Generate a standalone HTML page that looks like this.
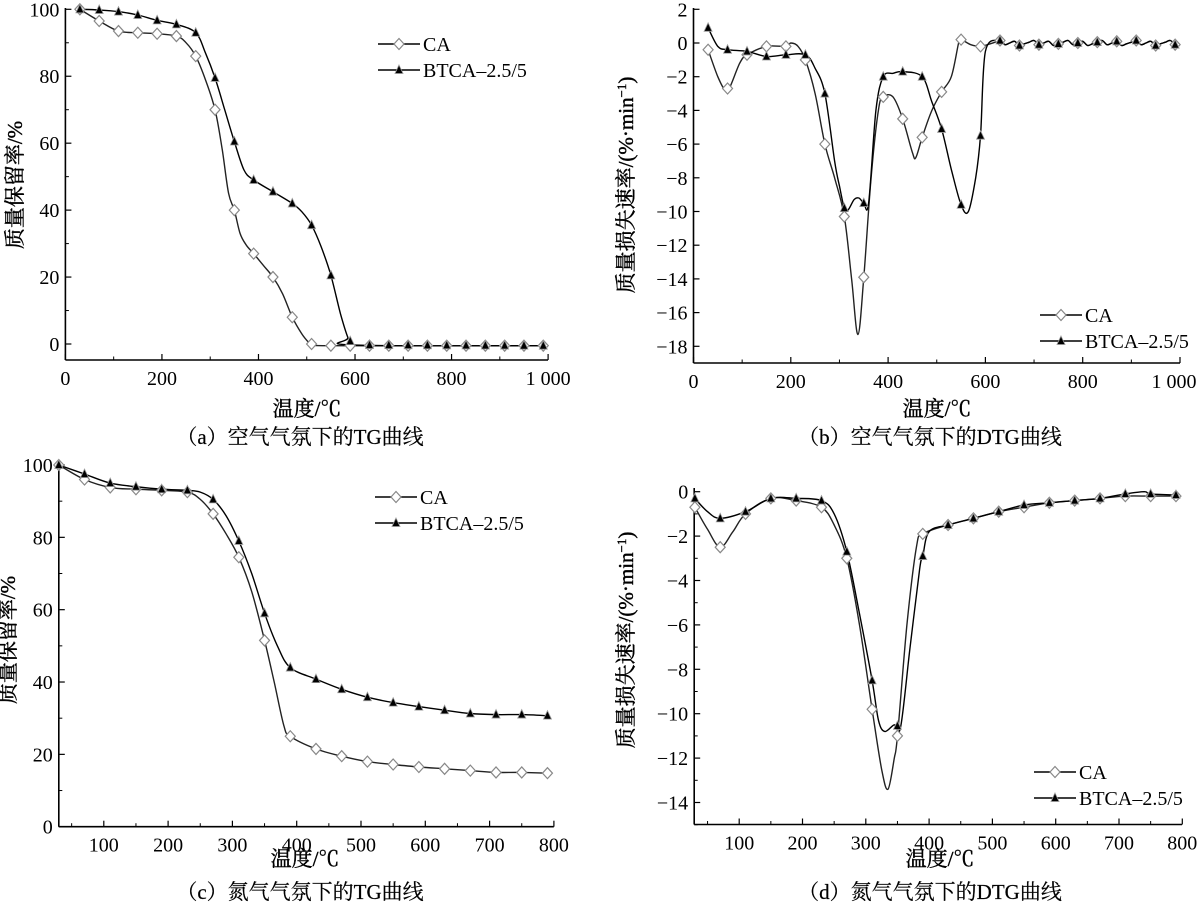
<!DOCTYPE html><html><head><meta charset="utf-8"><style>
body{margin:0;background:#fff}
svg{display:block}
text{font-family:"Liberation Serif","Noto Serif CJK SC",serif;fill:#000}
</style></head><body>
<svg id="s" width="1200" height="910" xmlns="http://www.w3.org/2000/svg"></svg>
<script>
const S=document.getElementById('s');let h='';
function P(o){
 const X=v=>o.x0+(v-o.xa)*o.sx, Y=v=>o.y0+(v-o.ya)*o.sy;
 h+=`<line x1="${o.L}" y1="${o.T}" x2="${o.L}" y2="${o.B}" stroke="#000" stroke-width="1.6"/>`;
 h+=`<line x1="${o.L}" y1="${o.B}" x2="${o.R}" y2="${o.B}" stroke="#000" stroke-width="1.6"/>`;
 o.xt.forEach(v=>{h+=`<line x1="${X(v)}" y1="${o.B}" x2="${X(v)}" y2="${o.B-6}" stroke="#000" stroke-width="1.2"/>`;
  let xx=X(v); if(v==1000) xx=Math.min(xx,1174);
  h+=`<text x="${xx}" y="${o.B+25}" font-size="20" text-anchor="middle">${v==1000?'1 000':v}</text>`;});
 o.xm.forEach(v=>{h+=`<line x1="${X(v)}" y1="${o.B}" x2="${X(v)}" y2="${o.B-3.5}" stroke="#000" stroke-width="1"/>`;});
 o.yt.forEach(v=>{h+=`<line x1="${o.L}" y1="${Y(v)}" x2="${o.L+6}" y2="${Y(v)}" stroke="#000" stroke-width="1.2"/>`;
  h+=`<text x="${o.L-6}" y="${Y(v)+7}" font-size="20" text-anchor="end">${v<0?'−'+(-v):v}</text>`;});
 o.ym.forEach(v=>{h+=`<line x1="${o.L}" y1="${Y(v)}" x2="${o.L+3.5}" y2="${Y(v)}" stroke="#000" stroke-width="1"/>`;});
 const line=(d,c)=>{const p=d.map(q=>[X(q[0]),Y(q[1])]);let s=`M${p[0][0].toFixed(1)},${p[0][1].toFixed(1)}`;
  for(let i=0;i<p.length-1;i++){const a=p[Math.max(0,i-1)],b=p[i],c2=p[i+1],e=p[Math.min(p.length-1,i+2)];
   const c1x=b[0]+(c2[0]-a[0])/6,c1y=b[1]+(c2[1]-a[1])/6,c3x=c2[0]-(e[0]-b[0])/6,c3y=c2[1]-(e[1]-b[1])/6;
   s+=` C${c1x.toFixed(1)},${c1y.toFixed(1)} ${c3x.toFixed(1)},${c3y.toFixed(1)} ${c2[0].toFixed(1)},${c2[1].toFixed(1)}`;}
  h+=`<path fill="none" stroke="${c}" stroke-width="1.4" stroke-linejoin="round" d="${s}"/>`;};
 const val=(d,t)=>{for(let i=0;i<d.length-1;i++){if(t>=d[i][0]&&t<=d[i+1][0]){const f=(t-d[i][0])/(d[i+1][0]-d[i][0]);return d[i][1]+f*(d[i+1][1]-d[i][1]);}}return d[d.length-1][1];};
 line(o.ca,'#222');line(o.bt,'#000');
 for(let t=30;t<=o.xmax;t+=40){const x=X(t),y=Y(val(o.ca,t));
  h+=`<polygon points="${x},${y-5.5} ${x+5},${y} ${x},${y+5.5} ${x-5},${y}" fill="#fff" stroke="#888" stroke-width="1.2"/>`;}
 for(let t=30;t<=o.xmax;t+=40){const x=X(t),y=Y(val(o.bt,t));
  h+=`<polygon points="${x},${y-5} ${x+4},${y+3.5} ${x-4},${y+3.5}" fill="#000" stroke="#999" stroke-width="0.8"/>`;}
 const lg=(x,y,tri,txt)=>{h+=`<line x1="${x}" y1="${y}" x2="${x+42}" y2="${y}" stroke="#000" stroke-width="1.4"/>`;
  h+= tri?`<polygon points="${x+21},${y-5} ${x+25},${y+3.5} ${x+17},${y+3.5}" fill="#000" stroke="#999" stroke-width="0.8"/>`
  :`<polygon points="${x+21},${y-5.5} ${x+26},${y} ${x+21},${y+5.5} ${x+16},${y}" fill="#fff" stroke="#888" stroke-width="1.2"/>`;
  h+=`<text x="${x+45}" y="${y+7}" font-size="20" font-family="Liberation Serif">${txt}</text>`;};
 lg(o.lx,o.ly,0,'CA');lg(o.lx,o.ly+26,1,'BTCA–2.5/5');
 h+=`<text transform="translate(${o.ytx},${o.yty}) rotate(-90)" font-size="21" text-anchor="middle" stroke="#000" stroke-width="0.4">${o.ytitle}</text>`;
 h+=`<text x="${o.xtx}" y="${o.xty}" font-size="21" text-anchor="middle" stroke="#000" stroke-width="0.4">温度/℃</text>`;
 h+=`<text x="${o.cx}" y="${o.cy}" font-size="21" text-anchor="middle" stroke="#000" stroke-width="0.2">${o.cap}</text>`;
}
const rng=(a,b,s)=>{let r=[];for(let v=a;v<=b+1e-9;v+=s)r.push(v);return r;};
const noise=(a,b)=>{let r=[],k=0;for(let t=a;t<=b;t+=10){r.push([t,((k*37)%7-3)*0.05]);k++;}return r;};
const ytA='质量保留率/%', ytB='质量损失速率/(%·min<tspan dy="-7" font-size="13">−1</tspan><tspan dy="7">)</tspan>';
P({xa:0,ya:0,x0:65.4,y0:344,sx:0.4827,sy:-3.347,L:65.4,R:548,T:8,B:360,xmax:990,
 xt:rng(0,1000,200),xm:rng(100,900,200),yt:rng(0,100,20),ym:rng(10,90,20),
 ca:[[30,100],[70,96.5],[110,93.5],[150,93],[190,92.7],[230,92],[250,90],[270,86],[290,79],[310,70],[325,58],[338,45],[350,40],[362,33],[375,29.5],[390,27],[410,23.5],[430,20],[450,15],[470,8],[490,3],[505,0.3],[510,0],[550,-0.5],[990,-0.5]],
 bt:[[30,100],[70,99.8],[110,99.3],[150,98.3],[190,96.7],[230,95.5],[270,93],[290,87],[310,79.5],[330,70],[350,60.5],[370,52],[390,49],[430,45.5],[470,42],[490,39.5],[510,35.5],[530,29],[550,20.5],[570,9],[585,2],[595,-0.3],[990,-0.5]],
 lx:378,ly:44,ytx:22,yty:185,ytitle:ytA,xtx:307,xty:416,cx:300,cy:444,cap:'（a）空气气氛下的TG曲线'});
let nb=noise(600,990);
P({xa:0,ya:0,x0:693.5,y0:43,sx:0.4865,sy:-16.85,L:693.5,R:1180,T:8,B:363,xmax:990,
 xt:rng(0,1000,200),xm:rng(100,900,200),yt:rng(-18,2,2),ym:[],
 ca:[[30,-0.4],[50,-2],[65,-2.8],[75,-2.6],[95,-1.2],[110,-0.7],[150,-0.2],[190,-0.2],[200,0],[215,-0.2],[230,-1],[250,-3],[270,-6],[290,-8],[310,-10.3],[325,-14],[338,-17.3],[350,-13.9],[365,-8],[380,-4],[390,-3.2],[410,-3.2],[430,-4.5],[450,-6.5],[457,-6.8],[470,-5.6],[490,-4],[510,-2.9],[530,-2],[545,0],[550,0.2],[570,-0.1],[590,-0.2]].concat(nb.slice(1)),
 bt:[[30,0.9],[50,-0.2],[70,-0.4],[110,-0.5],[150,-0.8],[190,-0.7],[230,-0.7],[250,-1.5],[270,-3],[290,-7],[300,-8.5],[310,-9.8],[318,-9.9],[330,-9.3],[340,-9.2],[350,-9.5],[360,-9.5],[375,-4],[390,-2],[410,-1.8],[430,-1.7],[470,-2],[490,-3.5],[510,-5.1],[530,-7.5],[550,-9.6],[565,-10],[580,-8],[590,-5.5],[600,-0.5]].concat(nb.slice(3)),
 lx:1040,ly:315,ytx:633,yty:185,ytitle:ytB,xtx:937,xty:416,cx:930,cy:444,cap:'（b）空气气氛下的DTG曲线'});
P({xa:100,ya:0,x0:103.8,y0:826.7,sx:0.643,sy:-3.617,L:58.8,R:553.8,T:462,B:826.7,xmax:790,
 xt:rng(100,800,100),xm:rng(50,750,100),yt:rng(0,100,20),ym:rng(10,90,20),
 ca:[[30,100],[70,96],[110,93.8],[150,93.3],[190,93],[230,92.5],[250,90.5],[270,86.5],[290,81],[310,74.5],[330,65],[350,51.5],[365,40],[380,28],[390,25],[430,21.5],[470,19.5],[510,18],[550,17.2],[590,16.5],[630,16],[670,15.5],[710,15],[750,15],[790,14.8]],
 bt:[[30,100],[70,97.5],[110,95],[150,94],[190,93.3],[230,93],[250,92.5],[270,90.5],[290,86],[310,79],[330,70],[350,59],[370,50],[390,44],[430,40.8],[470,38],[510,35.8],[550,34.3],[590,33.2],[630,32.2],[670,31.3],[710,31],[750,31],[790,30.7]],
 lx:375,ly:497,ytx:15,yty:640,ytitle:ytA,xtx:305,xty:866,cx:300,cy:899,cap:'（c）氮气气氛下的TG曲线'});
P({xa:100,ya:0,x0:739.2,y0:491.7,sx:0.633,sy:-22.2,L:694.2,R:1182,T:488,B:824.5,xmax:790,
 xt:rng(100,800,100),xm:rng(50,750,100),yt:rng(-14,0,2),ym:rng(-15,-1,2),
 ca:[[30,-0.7],[50,-1.7],[70,-2.5],[90,-1.8],[110,-1],[150,-0.3],[190,-0.4],[230,-0.7],[250,-1.5],[270,-3],[290,-6],[310,-9.8],[325,-12.5],[335,-13.4],[345,-12],[350,-11],[365,-6],[380,-2.5],[390,-1.9],[430,-1.5],[470,-1.2],[510,-0.9],[550,-0.7],[590,-0.5],[630,-0.4],[670,-0.3],[710,-0.2],[750,-0.2],[790,-0.2]],
 bt:[[30,-0.3],[50,-0.9],[70,-1.2],[110,-0.9],[150,-0.3],[190,-0.3],[230,-0.4],[250,-1],[270,-2.7],[290,-5.5],[310,-8.5],[320,-10.3],[330,-10.8],[345,-10.5],[355,-10.6],[370,-7],[385,-3.5],[390,-2.9],[400,-1.8],[430,-1.5],[470,-1.2],[510,-0.9],[550,-0.6],[590,-0.5],[630,-0.4],[670,-0.3],[710,-0.1],[740,0],[750,-0.1],[790,-0.15]],
 lx:1034,ly:772,ytx:633,yty:640,ytitle:ytB,xtx:940,xty:866,cx:930,cy:899,cap:'（d）氮气气氛下的DTG曲线'});
S.innerHTML=h;
</script>
</body></html>
